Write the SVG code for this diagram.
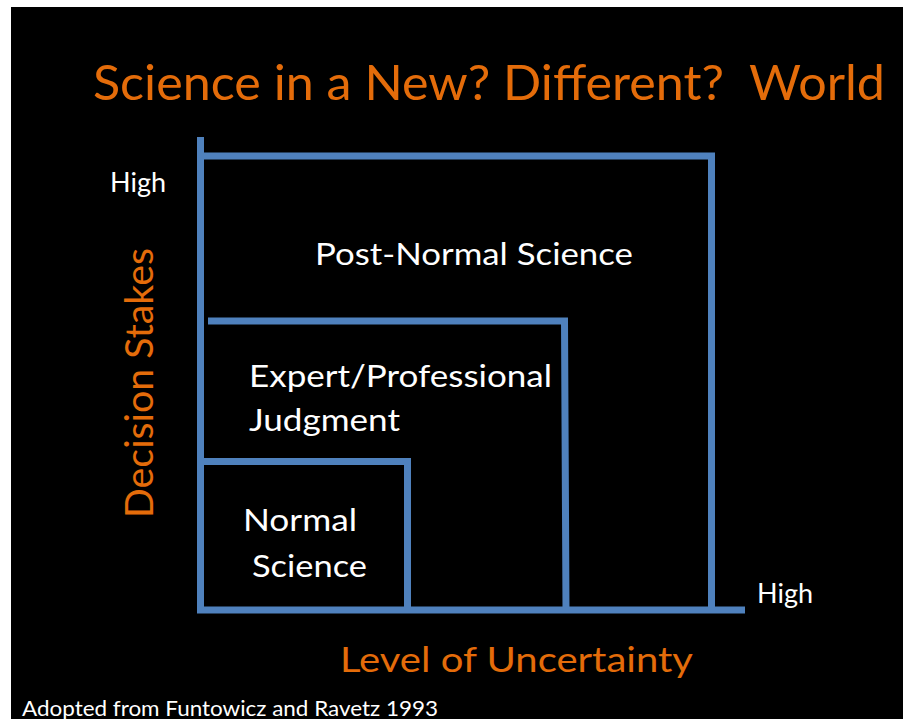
<svg xmlns="http://www.w3.org/2000/svg" width="903" height="719" viewBox="0 0 903 719">
  <style>
    .ln { fill: none; stroke: #4F81BD; stroke-width: 7; stroke-linecap: butt; stroke-linejoin: miter; }
    .w { fill: #FFFFFF; font-family: Lato, "Open Sans", "Liberation Sans", sans-serif; }
    .o { fill: #E46C0A; font-family: Lato, "Open Sans", "Liberation Sans", sans-serif; }
  </style>
  <rect x="0" y="0" width="903" height="719" fill="#FFFFFF"/>
  <rect x="11" y="7" width="892" height="712" fill="#000000"/>

  <g id="title">
    <text class="o" x="93" y="100" font-size="48" textLength="792" lengthAdjust="spacingAndGlyphs">Science in a New? Different?&#160; World</text>
  </g>

  <g id="connectors">
    <path class="ln" d="M200.5 137 V613"/>
    <path class="ln" d="M197 610 H745"/>
    <path class="ln" d="M200 156 H711.5 V610"/>
    <path class="ln" d="M208 321 H564.5 L566 610"/>
    <path class="ln" d="M200 461.5 H407.5 V610"/>
  </g>

  <g id="axis-y">
    <text class="o" transform="translate(153,518) rotate(-90)" font-size="38" textLength="270" lengthAdjust="spacingAndGlyphs">Decision Stakes</text>
    <text class="w" x="110" y="192" font-size="26" textLength="56" lengthAdjust="spacingAndGlyphs">High</text>
  </g>

  <g id="axis-x">
    <text class="o" x="340" y="672" font-size="34" textLength="353" lengthAdjust="spacingAndGlyphs">Level of Uncertainty</text>
    <text class="w" x="757" y="603" font-size="26" textLength="56" lengthAdjust="spacingAndGlyphs">High</text>
  </g>

  <g id="post-normal-science">
    <text class="w" x="315" y="265" font-size="30" textLength="318" lengthAdjust="spacingAndGlyphs">Post-Normal Science</text>
  </g>

  <g id="expert-judgment">
    <text class="w" x="249" y="387" font-size="30" textLength="303" lengthAdjust="spacingAndGlyphs">Expert/Professional</text>
    <text class="w" x="249" y="431" font-size="30" textLength="151" lengthAdjust="spacingAndGlyphs">Judgment</text>
  </g>

  <g id="normal-science">
    <text class="w" x="243" y="531" font-size="30" textLength="114" lengthAdjust="spacingAndGlyphs">Normal</text>
    <text class="w" x="252" y="577" font-size="30" textLength="115" lengthAdjust="spacingAndGlyphs">Science</text>
  </g>

  <g id="footer">
    <text class="w" x="22" y="716" font-size="21" textLength="416" lengthAdjust="spacingAndGlyphs">Adopted from Funtowicz and Ravetz 1993</text>
  </g>
</svg>
